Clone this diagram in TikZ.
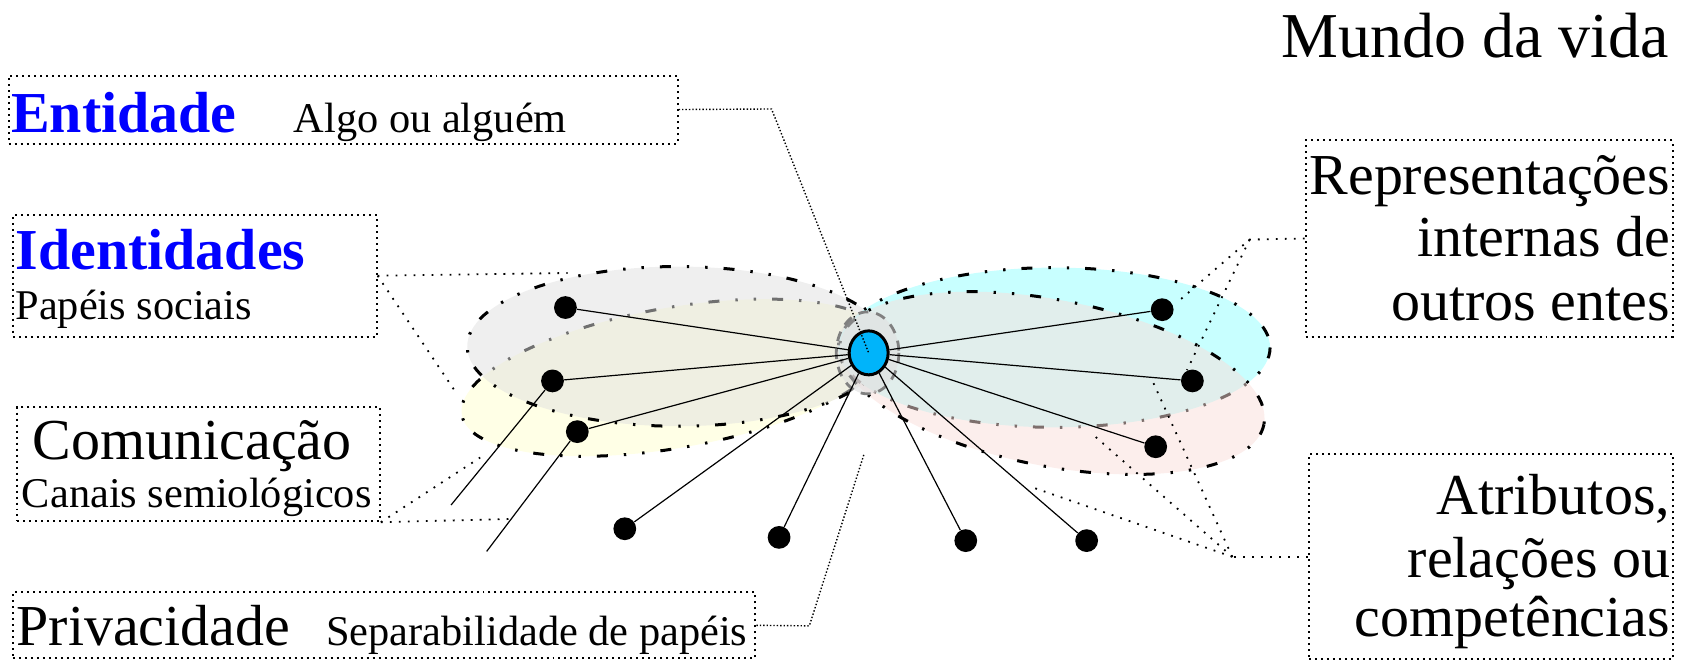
\documentclass[tikz,border=0pt]{standalone}
\usepackage{fontspec}
\setmainfont{Liberation Serif}
\usetikzlibrary{shapes.geometric,fit}

\definecolor{nodeblue}{RGB}{0,180,250}
\definecolor{yellowfill}{RGB}{255,255,230}
\definecolor{grayfill}{RGB}{224,224,224}
\definecolor{cyanfill}{RGB}{200,255,255}
\definecolor{pinkfill}{RGB}{250,222,218}

\begin{document}
\begin{tikzpicture}[
            x=0.54pt, y=-0.54pt,
            box/.style={draw, dotted, line width=1pt, inner sep=0pt},
            rim/.style={line width=1.5pt, dash pattern=on 5.5pt off 8pt on 1.2pt off 8pt on 1.2pt off 8pt},
            halo/.style={draw=gray, line width=1.4pt, dash pattern=on 5pt off 4pt, fill=black!12, fill opacity=0.6},
            link/.style={line width=0.6pt},
            hint/.style={line width=0.9pt, dash pattern=on 0.9pt off 3.6pt},
            fine/.style={line width=0.7pt, densely dotted},
            dot/.style={circle, fill=black, minimum size=11.4pt, inner sep=0pt},
            big/.style={inner sep=0pt, font=\fontsize{29}{32}\selectfont},
            small/.style={inner sep=0pt, font=\fontsize{21.2}{24}\selectfont},
            head/.style={inner sep=0pt, text=blue, font=\fontsize{29}{32}\selectfont\bfseries}
        ]

        \useasboundingbox (0,0) rectangle (1568,612);

        % Elipses (papeis)
        \draw[rim, fill=yellowfill, rotate around={10:(625,350)}] (625,350) ellipse [x radius=200, y radius=65];
        \draw[rim, fill=grayfill, fill opacity=0.5] (628,321) ellipse [x radius=195, y radius=74];
        \draw[rim, fill=cyanfill] (977,322) ellipse [x radius=200, y radius=74];
        \draw[rim, fill=pinkfill, fill opacity=0.5, rotate around={-11:(975,355)}] (975,355) ellipse [x radius=200, y radius=77];
        \draw[halo] (804,327) ellipse [x radius=29, y radius=38];

        % Pontos
        \node[dot] (l1) at (524,285) {};
        \node[dot] (l2) at (512,353) {};
        \node[dot] (l3) at (535,400) {};
        \node[dot] (r1) at (1077,287) {};
        \node[dot] (r2) at (1105,353) {};
        \node[dot] (r3) at (1071,414) {};
        \node[dot] (b1) at (579,490) {};
        \node[dot] (b2) at (722,498) {};
        \node[dot] (b3) at (895,501) {};
        \node[dot] (b4) at (1007,501) {};
        \coordinate (l2tail) at (418,468);
        \coordinate (l3tail) at (451,511);

        % Entidade
        \node[draw, ellipse, line width=1.5pt, fill=nodeblue, minimum width=19.5pt, minimum height=22pt, inner sep=0pt] (centre) at (805,327) {};

        % Ligacoes
        \foreach \p in {l1,l2,l3,r1,r2,r3,b1,b2,b3,b4}
            \draw[link] (centre) -- (\p);
        \draw[link] (l2) -- (l2tail);
        \draw[link] (l3) -- (l3tail);

        % Caixas
        \node[box, fit={(8,70) (628,133)}] (entidade) {};
        \node[box, fit={(12,199) (349,312)}] (identidades) {};
        \node[box, fit={(16,377) (352,483)}] (comunicacao) {};
        \node[box, fit={(12,549) (700,610)}] (privacidade) {};
        \node[box, fit={(1210,130) (1550,312)}] (representacoes) {};
        \node[box, fit={(1213,421) (1550,611)}] (atributos) {};

        % Textos
        \node[big, anchor=base east, font=\fontsize{32}{35}\selectfont] (mundo) at (1547,53) {Mundo da vida};
        \node[head, anchor=base west] (entidadeT) at (10,123) {Entidade};
        \node[small, anchor=base west] (algoT) at (272,123) {Algo ou alguém};
        \node[head, anchor=base west] (identidadesT) at (14,250) {Identidades};
        \node[small, anchor=base west] (papeisT) at (14,296) {Papéis sociais};
        \node[big, anchor=base west] (comunicacaoT) at (30,426) {Comunicação};
        \node[small, anchor=base west] (canaisT) at (20,470) {Canais semiológicos};
        \node[big, anchor=base west] (privacidadeT) at (15,598) {Privacidade};
        \node[small, anchor=base west] (separabT) at (302,598) {Separabilidade de papéis};
        \node[big, anchor=base east] (repT1) at (1548,180) {Representações};
        \node[big, anchor=base east] (repT2) at (1548,238) {internas de};
        \node[big, anchor=base east] (repT3) at (1548,297) {outros entes};
        \node[big, anchor=base east] (atrT1) at (1548,477) {Atributos,};
        \node[big, anchor=base east] (atrT2) at (1548,535) {relações ou};
        \node[big, anchor=base east] (atrT3) at (1548,590) {competências};

        % Chamadas
        \coordinate (entBend) at (715,101);
        \coordinate (idEnd) at (526,253);
        \coordinate (idTip) at (422,363);
        \coordinate (comTip) at (445,424);
        \coordinate (comEnd) at (472,481);
        \coordinate (privBend) at (750,580);
        \coordinate (privTip) at (801,420);
        \coordinate (repBend) at (1158,222);
        \coordinate (repTip1) at (1090,281);
        \coordinate (repTip2) at (1100,343);
        \coordinate (atrBend) at (1142,516);
        \coordinate (atrTip1) at (955,451);
        \coordinate (atrTip2) at (1012,402);
        \coordinate (atrTip3) at (1068,353);

        \draw[fine] (entidade.east) -- (entBend) -- (centre.center);
        \draw[hint] (identidades.east) -- (idEnd);
        \draw[hint] (identidades.east) -- (idTip);
        \draw[hint] (comunicacao.south east) -- (comTip);
        \draw[hint] (comunicacao.south east) -- (comEnd);
        \draw[fine] (privacidade.east) -- (privBend) -- (privTip);
        \draw[hint] (representacoes.west) -- (repBend) -- (repTip1);
        \draw[hint] (repBend) -- (repTip2);
        \draw[hint] (atributos.west) -- (atrBend);
        \foreach \t in {atrTip1,atrTip2,atrTip3}
            \draw[hint] (atrBend) -- (\t);

        \end{tikzpicture}
\end{document}
